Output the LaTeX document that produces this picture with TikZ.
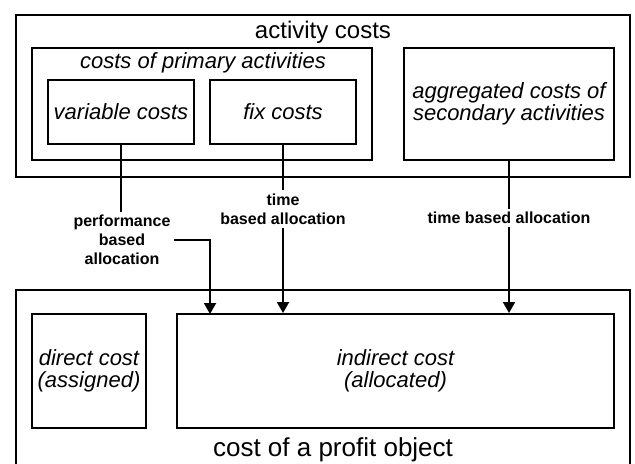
\documentclass[tikz,border=0pt]{standalone}
\usepackage{fontspec}
\setmainfont{Liberation Sans}
\usetikzlibrary{arrows.meta}

\tikzset{
  costbox/.style={draw, line width=1pt, inner sep=0pt, align=center,
    font=\itshape\fontsize{11}{11.2}\selectfont},
  alloclabel/.style={align=center, inner sep=1.5pt,
    font=\bfseries\fontsize{8}{9.5}\selectfont},
  link/.style={line width=1pt},
  flow/.style={line width=1pt, -{Triangle[width=6pt,length=5.5pt]}}
}

\begin{document}
\begin{tikzpicture}[x=0.5pt,y=-0.5pt]
    \useasboundingbox (0,0) rectangle (635,463);

    % Activity costs (upper block)
    \node[costbox, minimum width=307pt, minimum height=81pt] (act) at (323,96) {};
    \node[font=\fontsize{12}{14}\selectfont] (acttitle) at (323,32) {activity costs};

    \node[costbox, minimum width=170pt, minimum height=56pt] (prim) at (202,104) {};
    \node[font=\itshape\fontsize{11}{13}\selectfont] (primtitle) at (203,63) {costs of primary activities};
    \node[costbox, minimum width=73pt, minimum height=32pt] (var) at (121,112) {variable costs};
    \node[costbox, minimum width=73pt, minimum height=32pt] (fix) at (283,112) {fix costs};

    \node[costbox, minimum width=105pt, minimum height=56pt] (agg) at (509,104)
        {aggregated costs of\\secondary activities};

    % Cost of a profit object (lower block)
    \node[costbox, minimum width=307pt, minimum height=95pt] (obj) at (323,385) {};
    \node[font=\fontsize{13}{15}\selectfont] (objtitle) at (333,450) {cost of a profit object};

    \node[costbox, minimum width=57pt, minimum height=57pt] (dir) at (89,371)
        {direct cost\\(assigned)};
    \node[costbox, minimum width=218.5pt, minimum height=57pt] (ind) at (395.5,371)
        {indirect cost\\(allocated)};

    % Allocation labels
    \node[alloclabel] (perf) at (122,240) {performance\\based\\allocation};
    \node[alloclabel] (tfix) at (283,209) {time\\based allocation};
    \node[alloclabel] (tagg) at (509,218) {time based allocation};
    \coordinate (perfin) at (210,314);

    % Connectors
    \draw[link] (var.south) -- (var.south |- perf.north);
    \draw[flow] (perf.east) -| (perfin);
    \draw[link] (fix.south) -- (tfix.north);
    \draw[flow] (tfix.south) -- (tfix.south |- ind.north);
    \draw[link] (agg.south) -- (tagg.north);
    \draw[flow] (tagg.south) -- (tagg.south |- ind.north);
\end{tikzpicture}
\end{document}
